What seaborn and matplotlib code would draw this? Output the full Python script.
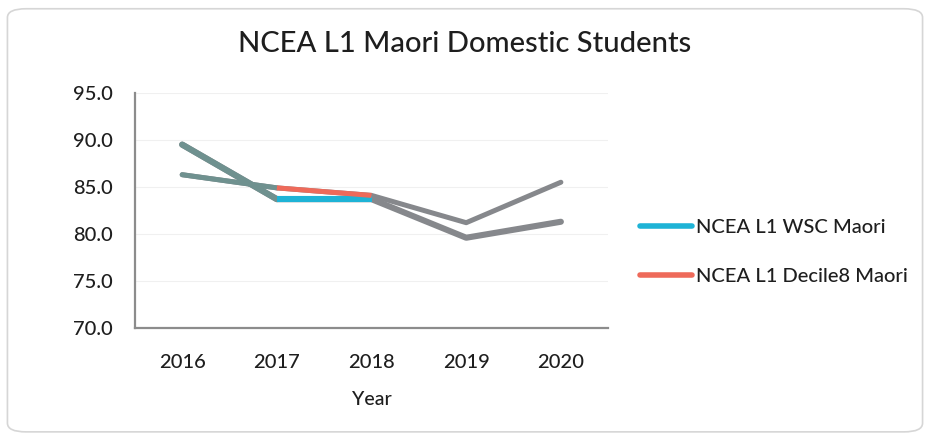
import matplotlib
matplotlib.use("Agg")
import matplotlib.pyplot as plt
from matplotlib.patches import FancyBboxPatch
from matplotlib.lines import Line2D
import seaborn as sns
import pandas as pd

years = [2016, 2017, 2018, 2019, 2020]
wsc_maori = [89.5, 83.7, 83.7, 79.6, 81.3]
decile8_maori = [86.3, 84.9, 84.1, 81.2, 85.5]
series_names = ["NCEA L1 WSC Maori", "NCEA L1 Decile8 Maori"]
y_ticks = [70.0, 75.0, 80.0, 85.0, 90.0, 95.0]

sns.set_theme(style="white")
plt.rcParams["font.family"] = ["Lato", "DejaVu Sans"]

df = pd.DataFrame({"Year": years, series_names[0]: wsc_maori, series_names[1]: decile8_maori})

fig = plt.figure(figsize=(9.3, 4.38), dpi=100)
fig.patch.set_facecolor("white")

# rounded chart-area border
frame = FancyBboxPatch((0.008, 0.014), 0.984, 0.966,
                       boxstyle="round,pad=0,rounding_size=0.02",
                       transform=fig.transFigure, facecolor="none",
                       edgecolor="#d6d6d6", linewidth=1.2, zorder=-1)
fig.patches.append(frame)

ax = fig.add_axes([0.145, 0.251, 0.509, 0.537])
ax.set_facecolor("none")

colors = {series_names[0]: "#1eb3d6", series_names[1]: "#ee6a5a"}
widths = {series_names[0]: 4.4, series_names[1]: 3.6}

for name in series_names:
    # whole series in grey
    sns.lineplot(data=df, x="Year", y=name, ax=ax, color="#86888c",
                 linewidth=widths[name], solid_capstyle="round", zorder=3)
    # first segment in slate teal
    sns.lineplot(data=df.iloc[0:2], x="Year", y=name, ax=ax, color="#6f918f",
                 linewidth=widths[name], solid_capstyle="round", zorder=4)
    # 2017-2018 segment in series colour
    sns.lineplot(data=df.iloc[1:3], x="Year", y=name, ax=ax, color=colors[name],
                 linewidth=widths[name], solid_capstyle="butt", zorder=5)

ax.set_xlim(years[0] - 0.5, years[-1] + 0.5)
ax.set_ylim(y_ticks[0], y_ticks[-1])
ax.set_xticks(years)
ax.set_xticklabels([str(y) for y in years])
ax.set_yticks(y_ticks)
ax.set_yticklabels([f"{v:.1f}" for v in y_ticks])
for v in y_ticks[1:]:
    ax.axhline(v, color="#f0f0f0", linewidth=0.8, zorder=1)

ax.tick_params(axis="both", length=0, labelsize=14.5, colors="#1e1e1e")
ax.tick_params(axis="x", pad=19)
ax.tick_params(axis="y", pad=16)
for lbl in ax.get_xticklabels() + ax.get_yticklabels():
    lbl.set_fontweight("medium")

ax.set_xlabel("Year", fontsize=14, color="#1e1e1e", labelpad=14, fontweight="medium")
ax.set_ylabel("")
for side in ["top", "right"]:
    ax.spines[side].set_visible(False)
for side in ["left", "bottom"]:
    ax.spines[side].set_color("#8c8c8c")
    ax.spines[side].set_linewidth(1.6)

fig.suptitle("NCEA L1 Maori Domestic Students", x=0.5, y=0.93,
             fontsize=21, color="#1e1e1e", fontweight="medium")

handles = [Line2D([], [], color=colors[n], linewidth=4, solid_capstyle="round") for n in series_names]
leg = fig.legend(handles, series_names, loc="center left", bbox_to_anchor=(0.688, 0.425),
                 frameon=False, fontsize=14.5, handlelength=2.6, handletextpad=0.2,
                 labelspacing=1.55, borderpad=0, borderaxespad=0, labelcolor="#1e1e1e")
for t in leg.get_texts():
    t.set_fontweight("medium")

fig.savefig("out.png", dpi=100, facecolor="white")
